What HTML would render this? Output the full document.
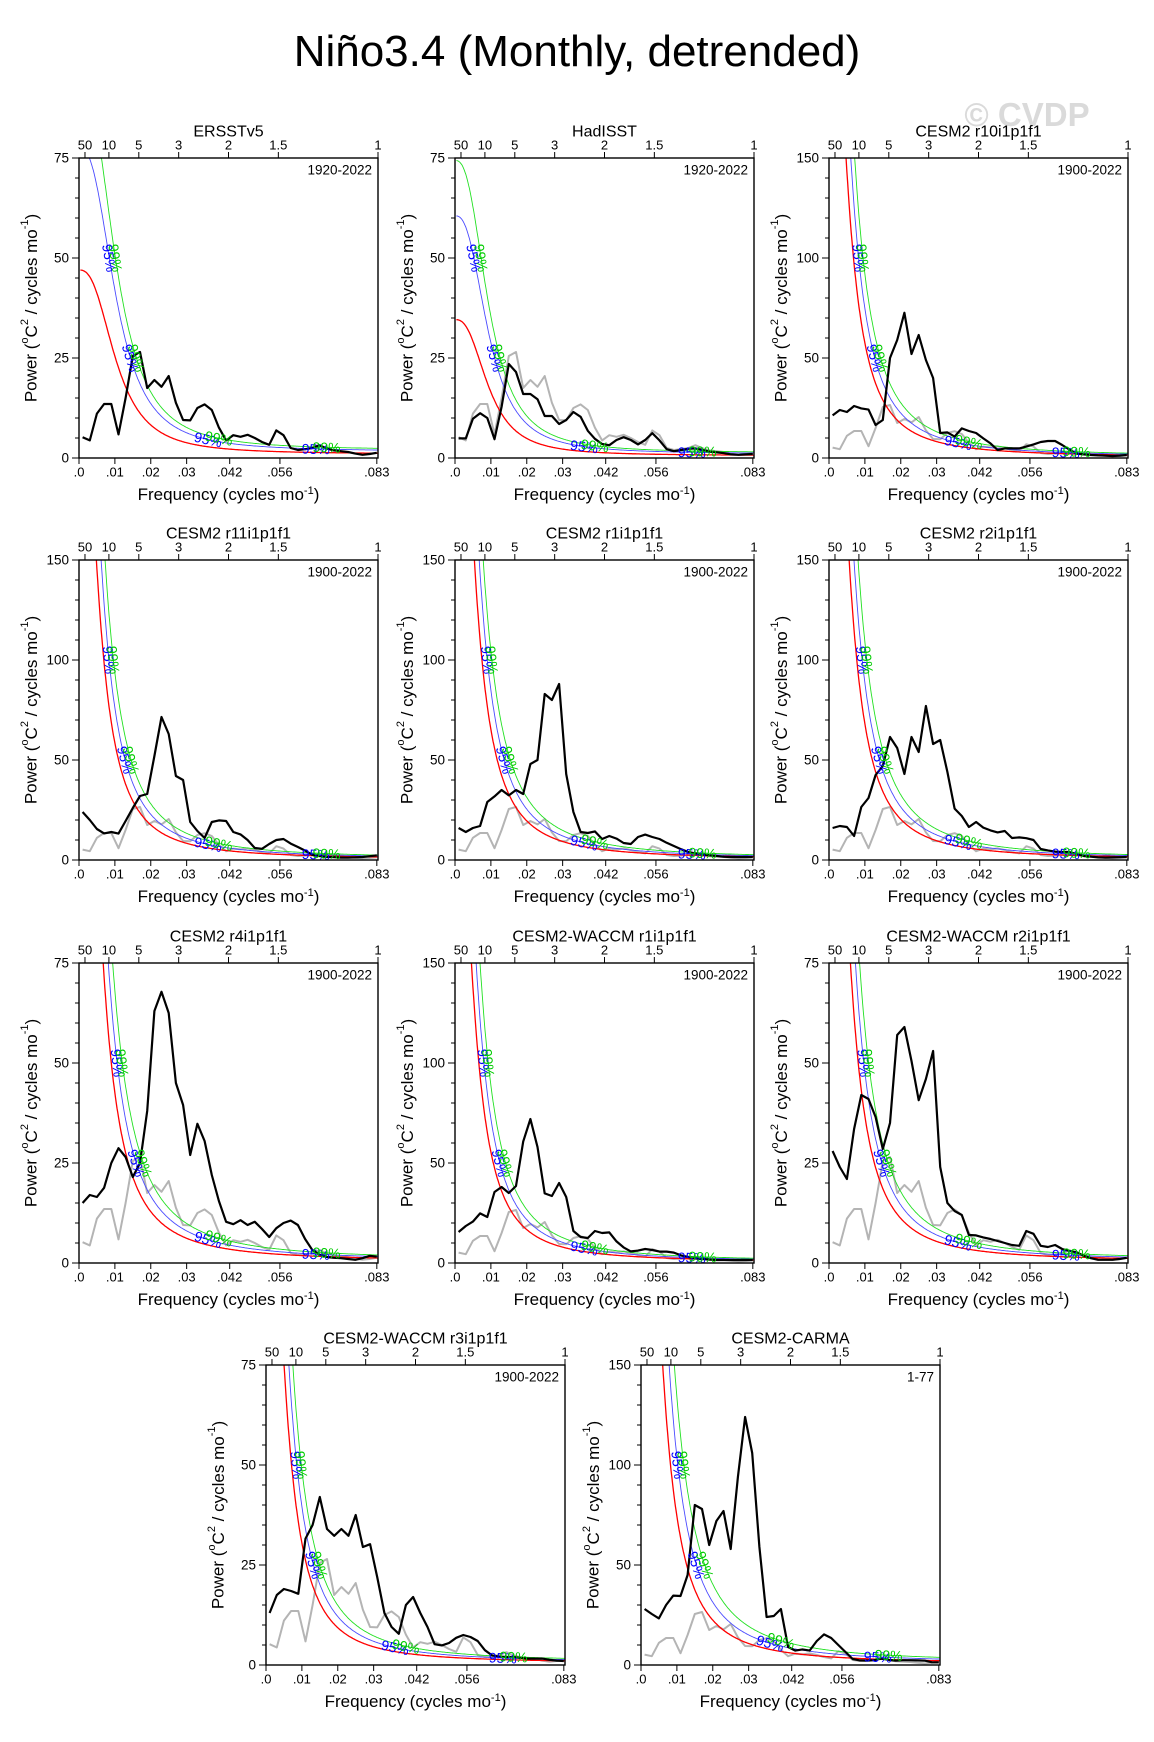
<!DOCTYPE html>
<html><head><meta charset="utf-8"><title>Niño3.4 (Monthly, detrended)</title>
<style>
html,body{margin:0;padding:0;background:#fff;}
svg{display:block;font-family:"Liberation Sans",Arial,sans-serif;}
</style></head>
<body>
<svg id="fig" xmlns="http://www.w3.org/2000/svg" width="1154" height="1742" viewBox="0 0 1154 1742">
<rect x="0" y="0" width="1154" height="1742" fill="#fff"/>
<text x="1027" y="126" font-size="33" font-weight="bold" fill="#dadada" text-anchor="middle">© CVDP</text>
<text x="577" y="66" font-size="44" text-anchor="middle" fill="#000">Niño3.4 (Monthly, detrended)</text>
</svg>
<script>
// frequency grid (cycles per month)
const freqs = [0.001,0.003,0.005,0.007,0.009,0.011,0.013,0.015,0.017,0.019,0.021,0.023,0.025,0.027,0.029,0.031,0.033,0.035,0.037,0.039,0.041,0.043,0.045,0.047,0.049,0.051,0.053,0.055,0.057,0.059,0.061,0.063,0.065,0.067,0.069,0.071,0.073,0.075,0.077,0.079,0.081,0.083];
const ersst = [5.2,4.4,11.1,13.5,13.5,5.9,15,25.5,26.5,17.5,19.5,17.8,20.5,13.8,9.5,9.4,12.5,13.4,12,7.6,4.4,5.7,5.3,5.8,5,4,3.3,6.9,5.7,2.5,2,2.2,2.5,3.2,2.4,1.9,1.7,1.5,1.1,0.8,1.0,1.3];
const hadisst = [4.9,4.9,9.8,11.2,10,4.7,12.8,23.5,21.5,16,16,14.7,10.5,10.5,8.5,9.5,11.5,10.3,6.8,4.8,3.5,3.2,4.5,5.2,4.5,3.4,4.5,6.2,4.4,2.2,1.7,2,2.3,2.4,2,1.6,1.4,1.2,0.9,0.8,0.9,1.0];
const r10 = [21.3,24,23,26,24.8,24.2,16.5,19,50,59,72.6,52,61.5,49,40,12.5,12.8,10.7,14.8,13.5,12.5,9.8,7.3,4,4.8,4.8,4.8,5.7,6.8,8,8.5,8.5,6.5,4.2,2.2,1.8,1.5,1.3,1.2,1,1.2,1.5];
const r11 = [24,20,15.5,13.3,14,13.2,19.5,26,32,33,52,71.5,63,42,40,19,14.5,11,19,19.8,19.5,14,12.8,10,6,5.6,8,10,10.5,8.2,6.5,4.7,2.6,2,1.5,1.4,1.2,1.2,1.3,1.5,1.9,2.3];
const r1 = [16,14,16,17,29,31.8,35,32.3,35,33,48,50,83,80,88,43,24,14,13.5,14.3,10.5,12,10.7,8.5,8,11.5,12.7,11.5,10.5,8.6,7,5.4,4,3.3,2.8,2.3,2,1.6,1.5,1.5,1.5,1.5];
const r2 = [16,17,16.5,12,26.5,31,42.5,47,61.5,56,43,61.5,54,77,58,60,44,25.7,22,16.5,19,16.2,14.8,13.8,14.5,11,11.3,10.9,10,5.5,4.8,4.2,4,4,3,2,1.7,1.3,1.2,1.3,1.4,1.5];
const r4 = [15,17,16.5,18.8,25,28.7,26.5,21.5,25,38,63,67.8,62.5,45,39.5,27,34.8,30.5,22,15.5,10.3,9.7,10.7,9.5,10.3,8.5,6.5,8.7,10,10.6,9.5,6,3.3,2.1,1.5,1.3,1.2,1,0.8,1.2,1.8,1.6];
const waccm1 = [15.5,18.5,20.7,24.8,23,35.5,38,35,38.5,60.7,72,58,34.8,33.5,40,33,16,13,12.5,16,15,15.3,10.8,7.8,5.8,6.2,7,6.5,5.7,5.7,5.2,3.8,3,2.3,2,1.7,1.5,1.5,1.5,1.5,1.5,1.5];
const waccm2 = [28,24,21,33.5,42,41,36.5,28.5,35,57,59,50.5,40.7,46,53,24,15,13,12,7,6.9,6.4,6,5.5,5,4.5,4.3,8,7.3,4.3,4,4.5,3.5,3,2.7,1.8,1.2,0.8,0.8,0.8,1,1.3];
const waccm3 = [13,17.5,19,18.5,17.8,31.6,35,42,34,32.3,34,32.3,37.5,29.5,30.2,22,13,9.5,7.8,15,17,13,9.5,5.2,4.9,5.5,6.8,7.5,7,6,3.7,2.4,2.1,2,2,1.8,1.6,1.6,1.6,1.3,1.1,1];
const carma = [28,25.5,23.3,30,34.7,34.5,45,80,78,60,72,77,58,94,124,106,59,24,24.5,28,9,7.2,7.8,7.2,12,15.3,13.5,10,6.5,3,2.3,2.2,2.4,3.2,2.6,2.2,2.4,2.4,2.3,2.2,1.4,1.3];
// panel metadata
const panelTitles = ['ERSSTv5','HadISST','CESM2 r10i1p1f1','CESM2 r11i1p1f1','CESM2 r1i1p1f1','CESM2 r2i1p1f1','CESM2 r4i1p1f1','CESM2-WACCM r1i1p1f1','CESM2-WACCM r2i1p1f1','CESM2-WACCM r3i1p1f1','CESM2-CARMA'];
const panelPeriods = ['1920-2022','1920-2022','1900-2022','1900-2022','1900-2022','1900-2022','1900-2022','1900-2022','1900-2022','1900-2022','1-77'];
const panelYmax = [75,75,150,150,150,150,75,150,75,75,150];
const panelSeries = [ersst,hadisst,r10,r11,r1,r2,r4,waccm1,waccm2,waccm3,carma];
const panelHasRef = [false,true,true,true,true,true,true,true,true,true,true];
// red-noise fit parameters per panel
const redS0 = [46,34,285,290,324,338,210,275,181,150,368];
const redFc = [0.0105,0.0095,0.005,0.005,0.005,0.005,0.005,0.005,0.005,0.005,0.005];
const redPow = [2.6,2.6,2,2,2,2,2,2,2,2,2];
const redFloor = [1,0.6,0.5,0.5,0.5,0.5,0.5,0.5,0.5,0.5,0.8];
const mult95 = [1.65,1.75,1.3,1.3,1.3,1.3,1.3,1.3,1.3,1.3,1.4];
const mult99 = [2.0,2.15,1.6,1.6,1.6,1.6,1.6,1.6,1.6,1.6,1.8];
// axis ticks
const xTickVals = [0,0.01,0.02,0.03,0.042,0.056,0.083];
const xTickLabels = ['.0','.01','.02','.03','.042','.056','.083'];
const periodTicks = [50,10,5,3,2,1.5,1];
const periodLabels = ['50','10','5','3','2','1.5','1'];

// layout (pixels)
const LEFTS = [79,455,829,79,455,829,79,455,829,266,641];
const TOPS = [158,158,158,560,560,560,963,963,963,1365,1365];
const PW = 299, PH = 300, FMAX = 0.08333;
const NS = 'http://www.w3.org/2000/svg';
const svg = document.getElementById('fig');

function mk(tag, attrs, parent){
  const e = document.createElementNS(NS, tag);
  for (const k in attrs) e.setAttribute(k, attrs[k]);
  parent.appendChild(e);
  return e;
}
function slug(s){ return s.toLowerCase().replace(/[^a-z0-9]+/g,'-').replace(/^-|-$/g,''); }

for (let p = 0; p < panelTitles.length; p++){
  const L = LEFTS[p], T = TOPS[p], ymax = panelYmax[p];
  const xs = f => L + f / FMAX * PW;
  const ys = v => T + PH - v / ymax * PH;
  const red = f => redS0[p] / (1 + Math.pow(f / redFc[p], redPow[p])) + redFloor[p];
  const g = mk('g', {}, svg);
  
  

  const cp = mk('clipPath', {id: 'clip' + p}, g);
  mk('rect', {x: L, y: T, width: PW, height: PH}, cp);
  const plot = mk('g', {'clip-path': 'url(#clip' + p + ')'}, g);
  
  

  const seriesPath = arr => arr.map((v, i) => (i ? 'L' : 'M') + xs(freqs[i]).toFixed(1) + ' ' + ys(v).toFixed(1)).join(' ');

  if (panelHasRef[p]){
    const gl = mk('path', {d: seriesPath(ersst), fill: 'none', stroke: '#b4b4b4', 'stroke-width': 2, 'stroke-linejoin': 'round'}, plot);
    
    
  }
  const curves = [
    {m: 1, c: '#ff0000', w: 1.3, n: 'red-noise-line'},
    {m: mult95[p], c: '#4b4bff', w: 0.9, n: 'confidence-95-line'},
    {m: mult99[p], c: '#22e022', w: 0.9, n: 'confidence-99-line'}
  ];
  curves.forEach(cv => {
    let d = '';
    for (let f = 0.0004; f <= FMAX + 1e-6; f += 0.0002){
      const v = Math.min(red(f) * cv.m, ymax * 3);
      d += (d ? 'L' : 'M') + xs(f).toFixed(1) + ' ' + ys(v).toFixed(1) + ' ';
    }
    const cl = mk('path', {d: d, fill: 'none', stroke: cv.c, 'stroke-width': cv.w}, plot);
    
    
  });
  const bl = mk('path', {d: seriesPath(panelSeries[p]), fill: 'none', stroke: '#000', 'stroke-width': 2.2, 'stroke-linejoin': 'round'}, plot);
  
  

  // confidence labels
  const labelDefs = [{m: mult95[p], c: '#0000ff', t: '95%', off: 0}, {m: mult99[p], c: '#00cc00', t: '99%', off: 0.003}];
  labelDefs.forEach(ld => {
    const fn = f => red(f) * ld.m;
    const solve = target => { let a = 0.0004, b = FMAX; for (let k = 0; k < 60; k++){ const mid = (a + b) / 2; if (fn(mid) > target) a = mid; else b = mid; } return (a + b) / 2; };
    const spots = [solve(ymax * 2 / 3), solve(ymax / 3), 0.036 + ld.off, 0.066 + ld.off];
    spots.forEach(f => {
      const x = xs(f), y = ys(fn(f));
      const dx = xs(f + 0.0005) - xs(f - 0.0005), dy = ys(fn(f + 0.0005)) - ys(fn(f - 0.0005));
      const ang = Math.atan2(dy, dx) * 180 / Math.PI;
      const t = mk('text', {x: x.toFixed(1), y: y.toFixed(1), fill: ld.c, 'font-size': 14, 'text-anchor': 'middle', 'dominant-baseline': 'central', transform: 'rotate(' + ang.toFixed(1) + ' ' + x.toFixed(1) + ' ' + y.toFixed(1) + ')'}, g);
      t.textContent = ld.t;
      
      
    });
  });

  // frame
  const fr = mk('rect', {x: L, y: T, width: PW, height: PH, fill: 'none', stroke: '#000', 'stroke-width': 1.4}, g);
  
  

  // y ticks
  const yax = mk('g', {}, g);
  
  
  const minorStep = ymax / 15;
  for (let k = 0; k <= 15; k++){
    const v = k * minorStep, y = ys(v);
    const major = k % 5 === 0;
    mk('line', {x1: L, x2: L - (major ? 7 : 4), y1: y, y2: y, stroke: '#000', 'stroke-width': 1}, yax);
    if (major){
      const tl = mk('text', {x: L - 10, y: y, 'font-size': 13.5, 'text-anchor': 'end', 'dominant-baseline': 'central'}, yax);
      tl.textContent = String(Math.round(v));
      
      
    }
  }
  // x ticks
  const xax = mk('g', {}, g);
  
  
  xTickVals.forEach((f, i) => {
    const x = xs(f);
    mk('line', {x1: x, x2: x, y1: T + PH, y2: T + PH + 6, stroke: '#000', 'stroke-width': 1}, xax);
    const tl = mk('text', {x: x, y: T + PH + 14, 'font-size': 13, 'text-anchor': 'middle', 'dominant-baseline': 'central'}, xax);
    tl.textContent = xTickLabels[i];
    
    
  });
  // top period ticks
  const tax = mk('g', {}, g);
  
  
  periodTicks.forEach((P, i) => {
    const x = xs(Math.min(1 / (12 * P), FMAX));
    mk('line', {x1: x, x2: x, y1: T, y2: T - 6, stroke: '#000', 'stroke-width': 1}, tax);
    const tl = mk('text', {x: x, y: T - 13, 'font-size': 13, 'text-anchor': 'middle', 'dominant-baseline': 'central'}, tax);
    tl.textContent = periodLabels[i];
    
    
  });

  // titles
  const tt = mk('text', {x: L + PW / 2, y: T - 26, 'font-size': 16, 'text-anchor': 'middle', 'dominant-baseline': 'central'}, g);
  tt.textContent = panelTitles[p];
  
  
  const pr = mk('text', {x: L + PW - 6, y: T + 12, 'font-size': 13.5, 'text-anchor': 'end', 'dominant-baseline': 'central'}, g);
  pr.textContent = panelPeriods[p];
  
  

  const xl = mk('text', {x: L + PW / 2, y: T + PH + 42, 'font-size': 17, 'text-anchor': 'middle'}, g);
  
  
  xl.appendChild(document.createTextNode('Frequency (cycles mo'));
  const xs1 = mk('tspan', {'baseline-shift': 'super', 'font-size': 11}, xl); xs1.textContent = '-1';
  xl.appendChild(document.createTextNode(')'));

  const ycx = L - 48, ycy = T + PH / 2;
  const yl = mk('text', {x: ycx, y: ycy, 'font-size': 17, 'text-anchor': 'middle', 'dominant-baseline': 'central', transform: 'rotate(-90 ' + ycx + ' ' + ycy + ')'}, g);
  
  
  yl.appendChild(document.createTextNode('Power ('));
  const s1 = mk('tspan', {'baseline-shift': 'super', 'font-size': 11}, yl); s1.textContent = 'o';
  mk('tspan', {}, yl).textContent = 'C';
  const s2 = mk('tspan', {'baseline-shift': 'super', 'font-size': 11}, yl); s2.textContent = '2';
  mk('tspan', {}, yl).textContent = ' / cycles mo';
  const s3 = mk('tspan', {'baseline-shift': 'super', 'font-size': 11}, yl); s3.textContent = '-1';
  mk('tspan', {}, yl).textContent = ')';
}
</script>
</body></html>
